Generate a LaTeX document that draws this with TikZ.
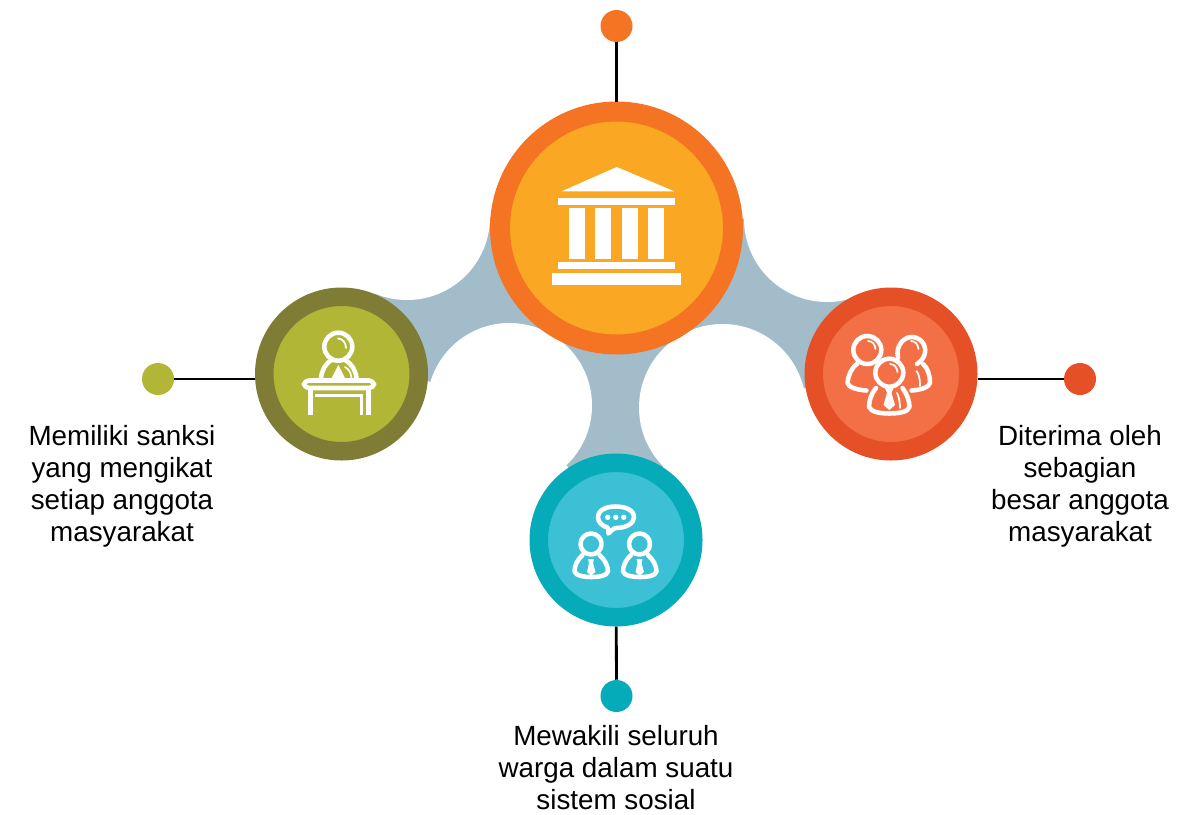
\documentclass[tikz,border=0pt]{standalone}
\usepackage{fontspec}
\setmainfont{Liberation Sans}
\tikzset{
	ring/.style={circle,inner sep=0pt,line width=13.875pt,minimum size=115.875pt},
	bigring/.style={circle,inner sep=0pt,line width=15pt,minimum size=174.75pt},
	dotnode/.style={circle,inner sep=0pt,minimum size=24pt},
	link/.style={draw=black,line width=2.1pt},
	caption/.style={align=center,font=\fontsize{20.85pt}{24pt}\selectfont,inner sep=0pt},
	icon/.style={draw=white,line width=3.4pt,line cap=round,line join=round},
	shine/.style={draw=white,line width=1.3pt,line cap=round}
}
\definecolor{bluegrey}{HTML}{A2BDC9}
\definecolor{orangeout}{HTML}{F57424}
\definecolor{orangein}{HTML}{FAA723}
\definecolor{oliveout}{HTML}{7F7D35}
\definecolor{olivein}{HTML}{B1B636}
\definecolor{redout}{HTML}{E55026}
\definecolor{redin}{HTML}{F37046}
\definecolor{tealout}{HTML}{05ABB8}
\definecolor{tealin}{HTML}{3BC0D6}
\begin{document}
\begin{tikzpicture}[x=0.75pt,y=-0.75pt]
	\useasboundingbox (0,0) rectangle (1201,814);
	
	% web between the circles
	\fill[bluegrey] (341,374) -- (407,217) -- (827,219) -- (891,374) -- (806,388) -- (722.5,407.5) -- (663,467) -- (616,540) -- (568,467) -- (509.5,405.5) -- (427.5,381) -- cycle;
	\fill[white] (407,217) circle (83);
	\fill[white] (827,219) circle (83);
	\fill[white] (509.5,405.5) circle (82.5);
	\fill[white] (722.5,407.5) circle (83.5);
	
	\node[bigring,draw=orangeout,fill=orangein] (mainring) at (616.5,228) {};
	\node[ring,draw=oliveout,fill=olivein] (leftring) at (341.5,374) {};
	\node[ring,draw=redout,fill=redin] (rightring) at (891,374) {};
	\node[ring,draw=tealout,fill=tealin] (lowring) at (616,540) {};
	
	\node[dotnode,fill=orangeout] (topdot) at (616.5,26) {};
	\node[dotnode,fill=olivein] (leftdot) at (158,379) {};
	\node[dotnode,fill=redout] (rightdot) at (1080,379) {};
	\node[dotnode,fill=tealout] (lowdot) at (616.5,696) {};
	
	\draw[link] (topdot) -- (mainring);
	\draw[link] (leftdot) -- (leftdot -| leftring.west);
	\draw[link] (rightdot) -- (rightdot -| rightring.east);
	\draw[link] (lowdot) -- (lowring);
	
	\node[caption] (lefttext) at (122,486) {Memiliki sanksi\\yang mengikat\\setiap anggota\\masyarakat};
	\node[caption] (righttext) at (1080,486) {Diterima oleh\\sebagian\\besar anggota\\masyarakat};
	\node[caption] (lowtext) at (616,768) {Mewakili seluruh\\warga dalam suatu\\sistem sosial};
	
	% temple
	\fill[white] (561.7,191.3) -- (616.7,167) -- (674.3,191.3) -- cycle;
	\fill[white] (558,198) rectangle (675,205);
	\foreach \colx in {569,595,622,648}
		\fill[white] (\colx,208) rectangle +(16,51);
	\fill[white] (558,262) rectangle (675,269);
	\fill[white] (552,273) rectangle (681,285);
	
	% speaker at desk
	\draw[icon] (338.3,346.7) circle (14);
	\draw[shine] (338,338.5) .. controls (342,338.5) and (346,342) .. (346,348);
	\draw[icon] (321,378) .. controls (322,370) and (325,364) .. (331.5,360);
	\draw[icon] (356.5,378) .. controls (355.5,370) and (352,364) .. (345,360);
	\fill[white] (338.3,365) -- (331.7,378) -- (345,378) -- cycle;
	\draw[shine] (345,367) .. controls (349,369) and (351,373) .. (351.5,378);
	\draw[icon,rounded corners=3.5pt] (304,380.5) rectangle (374,388);
	\fill[white] (307.7,388) rectangle (312.7,415);
	\fill[white] (366,388) rectangle (371,415);
	\fill[white] (360,394) rectangle (362.7,415);
	\fill[white] (315,394) rectangle (362.7,396.7);
	
	% group of three
	\draw[icon] (867.3,350) circle (14);
	\draw[shine] (868,341) .. controls (872,341) and (875,344) .. (875.5,349);
	\draw[icon] (857.5,363.5) .. controls (851,368) and (848,376) .. (847.5,383) .. controls (848,387) and (857,390) .. (866.5,390.5);
	\draw[icon] (898,358) .. controls (895,345) and (905,336) .. (913,337) .. controls (922,338) and (929,348) .. (923,358) .. controls (921,361) and (919,363) .. (917,364);
	\draw[shine] (911,341) .. controls (915,341) and (918,344) .. (918.5,349);
	\draw[icon] (923,364) .. controls (928,368) and (930,376) .. (930,383) .. controls (929,387) and (921,390) .. (911.5,390.5);
	\draw[shine] (916.5,371) .. controls (919,374) and (920,379) .. (920,386);
	\draw[icon] (889.3,372.7) circle (14);
	\draw[shine] (890,364) .. controls (894,364) and (897,367) .. (897.5,372);
	\draw[icon] (876,388) .. controls (871,394) and (869,401) .. (869,407) .. controls (871,412) and (880,413.5) .. (889.3,413.5) .. controls (899,413.5) and (908,412) .. (909.5,407) .. controls (909.5,401) and (907,394) .. (902.5,388);
	\fill[white] (885,388) -- (893.5,388) -- (891.5,393) -- (895,405) -- (889.3,410) -- (883.5,405) -- (887,393) -- cycle;
	\draw[shine] (897,393) .. controls (899,397) and (900,402) .. (900,408);
	
	% two people talking
	\draw[icon] (598,517.3) .. controls (598,510) and (606,506.5) .. (615.7,506.5) .. controls (625.5,506.5) and (634,510) .. (634,517.3) .. controls (634,524) and (625,528) .. (616,528) .. controls (614,528) and (611,531) .. (608.3,533.5) .. controls (608.5,531) and (609,529) .. (607.5,527.5) .. controls (602,526) and (598,522) .. (598,517.3) -- cycle;
	\foreach \talkx in {607.7,615.7,623.7}
		\fill[white] (\talkx,517.3) circle (2.7);
	\foreach \shiftx in {0,48.5}
	{
		\begin{scope}[xshift=\shiftx*0.75pt]
			\draw[icon] (591,544) circle (10.5);
			\draw[icon] (582.5,555) .. controls (577,560) and (574.5,566) .. (574.5,571.5) .. controls (576,576) and (584,577) .. (591,577) .. controls (599,577) and (607,576) .. (608,571.5) .. controls (608,566) and (605,560) .. (599.5,555);
			\fill[white] (588,559) -- (594,559) -- (593,563) -- (595.5,572) -- (591,575.5) -- (587,572) -- (589,563) -- cycle;
		\end{scope}
	}
\end{tikzpicture}
\end{document}
